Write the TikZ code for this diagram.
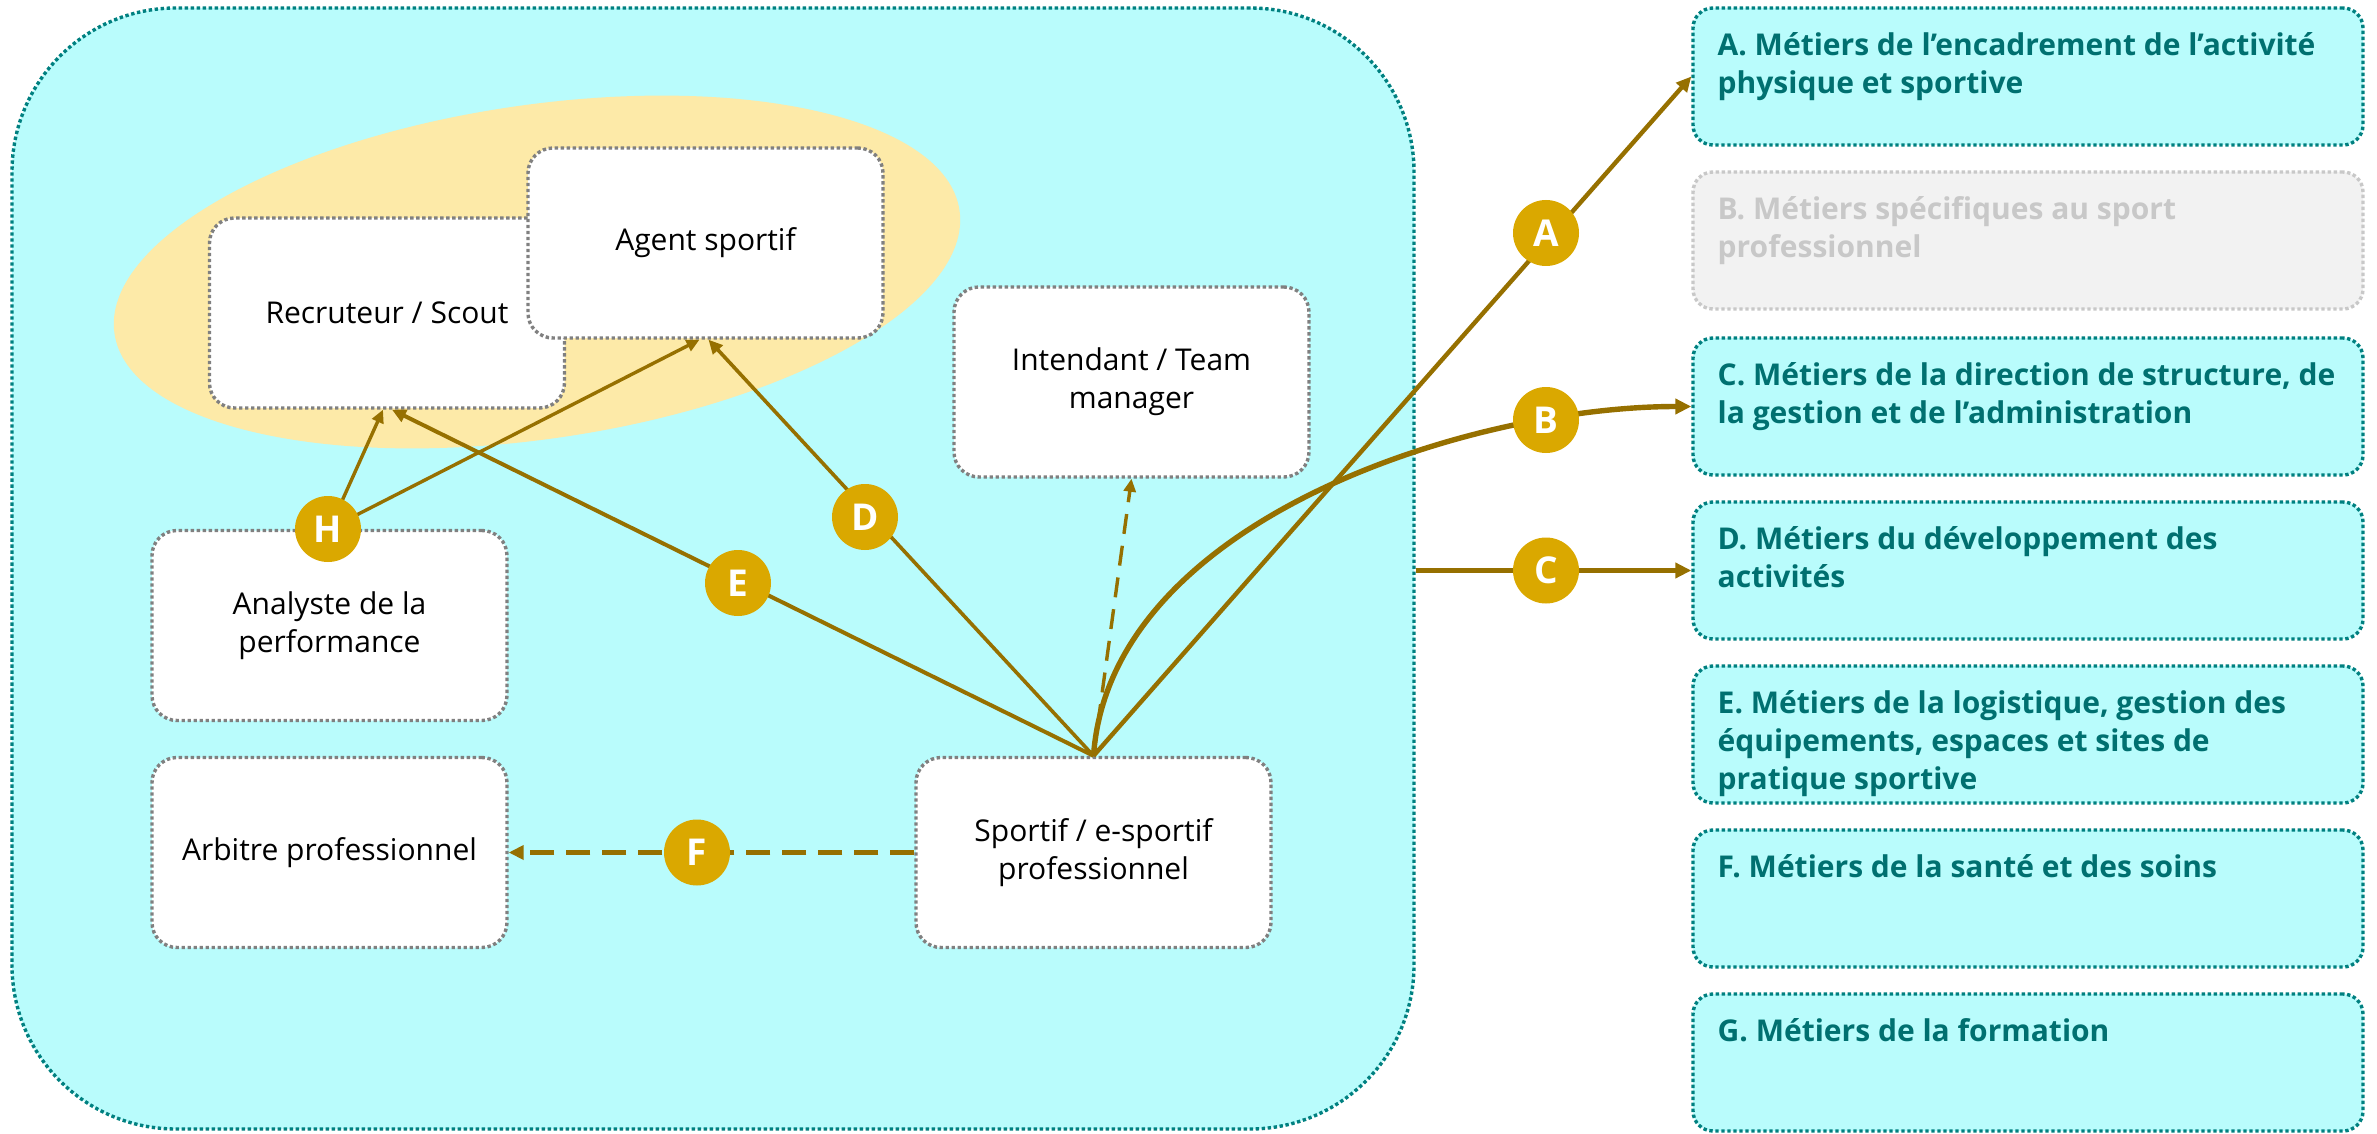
\documentclass[tikz,border=0pt]{standalone}
\usepackage{fontspec}
\setmainfont{Open Sans}
\usetikzlibrary{arrows.meta}
\definecolor{cyanfill}{RGB}{185,252,252}
\definecolor{tealb}{RGB}{0,128,128}
\definecolor{tealt}{RGB}{0,112,112}
\definecolor{ellfill}{RGB}{253,234,168}
\definecolor{arrowc}{RGB}{150,112,0}
\definecolor{circf}{RGB}{218,168,0}
\definecolor{grayb}{RGB}{128,128,128}
\definecolor{lgfill}{RGB}{242,242,242}
\definecolor{lgborder}{RGB}{200,200,200}
\definecolor{lgtext}{RGB}{200,200,200}
\tikzset{
  dotline/.style={dash pattern=on 1.7pt off 1.3pt, line width=1.7pt},
  bigbox/.style={draw=tealb, dotline, fill=cyanfill, rounded corners=82pt, minimum width=701pt, minimum height=560.5pt, inner sep=0pt},
  wbox/.style={draw=grayb, dotline, fill=white, rounded corners=12.5pt, minimum width=177.5pt, minimum height=95pt, align=center, inner sep=0pt, font=\fontsize{15}{19}\selectfont},
  rbox/.style={draw=tealb, dotline, fill=cyanfill, rounded corners=10pt, minimum width=335pt, minimum height=68.5pt, inner sep=0pt},
  rboxoff/.style={rbox, draw=lgborder, fill=lgfill},
  rtext/.style={anchor=north west, align=left, inner sep=0pt, text=tealt, font=\fontsize{15}{19}\selectfont\bfseries},
  rtextoff/.style={rtext, text=lgtext},
  lab/.style={circle, fill=circf, minimum size=33pt, inner sep=0pt, text=white, font=\fontsize{18.5}{18.5}\selectfont\bfseries},
  connthick/.style={draw=arrowc, line width=2.7pt, -{Triangle[length=8pt,width=7.5pt]}},
  conna/.style={draw=arrowc, line width=2.2pt, -{Triangle[length=7.5pt,width=7pt]}},
  conne/.style={draw=arrowc, line width=2pt, -{Triangle[length=7pt,width=6.5pt]}},
  connd/.style={draw=arrowc, line width=1.8pt, -{Triangle[length=7pt,width=6.5pt]}},
  connh/.style={draw=arrowc, line width=1.7pt, -{Triangle[length=6.5pt,width=6pt]}},
  dashint/.style={draw=arrowc, line width=1.7pt, dash pattern=on 10pt off 6pt, -{Triangle[length=6.5pt,width=6pt]}},
  dashf/.style={draw=arrowc, line width=2.4pt, dash pattern=on 12pt off 6pt, -{Triangle[length=7.5pt,width=7pt]}},
}
\begin{document}
\begin{tikzpicture}[x=0.5pt,y=-0.5pt]
\useasboundingbox (0,0) rectangle (2377,1134);
% container
\node[bigbox] (cont) at (713,568.5) {};
% yellow ellipse
\fill[ellfill, rotate around={8.3:(537,272)}] (537,272) ellipse [x radius=213.5pt, y radius=83.5pt];
% white boxes
\node[wbox] (rec) at (387,313) {Recruteur / Scout};
\node[wbox] (age) at (705.5,243) {Agent sportif};
\node[wbox] (int) at (1131.5,382) {Intendant / Team\\manager};
\node[wbox] (ana) at (329.5,625.5) {Analyste de la\\performance};
\node[wbox] (arb) at (329.5,852.5) {Arbitre professionnel};
\node[wbox] (spo) at (1093.5,852.5) {Sportif / e-sportif\\professionnel};
% right boxes
\node[rbox] (rA) at (2028,76.5) {};
\node[rboxoff] (rB) at (2028,240.5) {};
\node[rbox] (rC) at (2028,406.5) {};
\node[rbox] (rD) at (2028,570.5) {};
\node[rbox] (rE) at (2028,734.5) {};
\node[rbox] (rF) at (2028,898.5) {};
\node[rbox] (rG) at (2028,1062.5) {};
\node[rtext] (tA) at ([xshift=13pt,yshift=-11pt]rA.north west) {\strut A. Métiers de l’encadrement de l’activité\\physique et sportive};
\node[rtextoff] (tB) at ([xshift=13pt,yshift=-11pt]rB.north west) {\strut B. Métiers spécifiques au sport\\professionnel};
\node[rtext] (tC) at ([xshift=13pt,yshift=-11pt]rC.north west) {\strut C. Métiers de la direction de structure, de\\la gestion et de l’administration};
\node[rtext] (tD) at ([xshift=13pt,yshift=-11pt]rD.north west) {\strut D. Métiers du développement des\\activités};
\node[rtext] (tE) at ([xshift=13pt,yshift=-11pt]rE.north west) {\strut E. Métiers de la logistique, gestion des\\équipements, espaces et sites de\\pratique sportive};
\node[rtext] (tF) at ([xshift=13pt,yshift=-11pt]rF.north west) {\strut F. Métiers de la santé et des soins};
\node[rtext] (tG) at ([xshift=13pt,yshift=-11pt]rG.north west) {\strut G. Métiers de la formation};
% connectors
\draw[connh] (ana.north) -- ([xshift=-2pt]rec.south);
\draw[connh] (ana.north) -- ([xshift=-3pt]age.south);
\draw[conne] (spo.north) -- ([xshift=2.5pt]rec.south);
\draw[connd] (spo.north) -- ([xshift=1.5pt]age.south);
\draw[dashint] (spo.north) -- (int.south);
\draw[dashf] (spo.west) -- (arb.east);
\draw[conna] (spo.north) -- (rA.west);
\draw[connthick] (spo.north) .. controls (1110,520) and (1470,406.5) .. (rC.west);
\draw[connthick] (cont.east |- rD.west) -- (rD.west);
% letter badges
\node[lab] (cA) at (1546,233) {A};
\node[lab] (cB) at (1546,420) {B};
\node[lab] (cC) at (1546,570.5) {C};
\node[lab] (cD) at (865,517) {D};
\node[lab] (cE) at (738,583) {E};
\node[lab] (cF) at (697,852.5) {F};
\node[lab] (cH) at (328,529) {H};
\end{tikzpicture}
\end{document}
